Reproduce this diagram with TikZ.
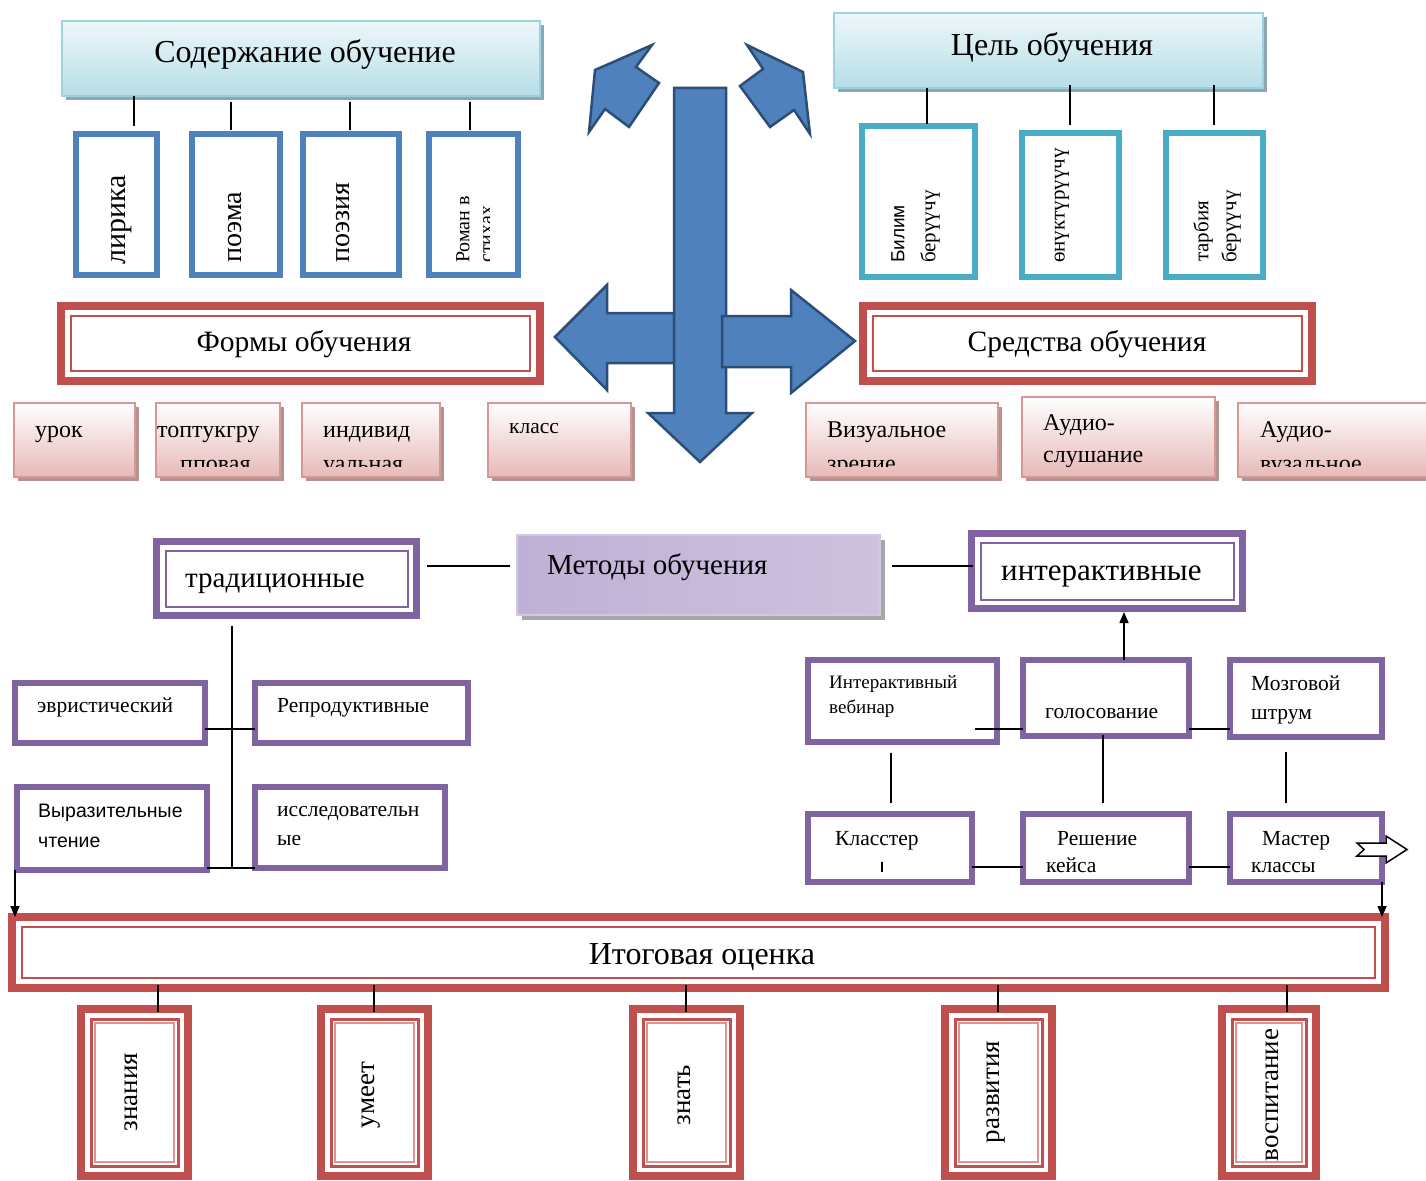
\documentclass[tikz,border=0pt]{standalone}
\usepackage{fontspec}
\setmainfont{Liberation Serif}
\newfontfamily\sansf{Liberation Sans}
\usetikzlibrary{arrows.meta}
\definecolor{bl}{HTML}{4F81BD}
\definecolor{bldark}{HTML}{2C4D75}
\definecolor{tl}{HTML}{4BACC6}
\definecolor{rd}{HTML}{C0504D}
\definecolor{pur}{HTML}{8064A2}
\definecolor{pinkb}{HTML}{D99694}
\definecolor{pinkf}{HTML}{E6B9B8}
\definecolor{pinksh}{HTML}{B39391}
\definecolor{cyb}{HTML}{9DD2E0}
\definecolor{cyf}{HTML}{B7DEE8}
\definecolor{cysh}{HTML}{8EA7B2}
\definecolor{lavA}{HTML}{BFB0D5}
\definecolor{lavB}{HTML}{E9E4F1}
\definecolor{lavC}{HTML}{CDC2DE}
\definecolor{graysh}{HTML}{A6A6A6}
\newcommand\BX[6]{\node[#1, minimum width={#4-#2}, minimum height={#5-#3}] (#6) at ({(#2+#4)/2},{(#3+#5)/2}) {};}
\newcommand\INR[4]{\draw[line width=#3, #4] ([shift={(#2,#2)}]#1.north west) rectangle ([shift={(-#2,-#2)}]#1.south east);}
\newcommand\SHD[6]{\fill[#1] ({#2+#6},{#3+#6}) rectangle ({#4+#6},{#5+#6});}
\begin{document}
\begin{tikzpicture}[x=1pt,y=-1pt,
  bx/.style={rectangle,inner sep=0pt,outer sep=0pt},
  hdr/.style={bx, draw=cyb, line width=2.5, top color=white!75!cyf, bottom color=cyf},
  blu/.style={bx, draw=bl, line width=6, fill=white},
  tlb/.style={bx, draw=tl, line width=6, fill=white},
  rdb/.style={bx, draw=rd, line width=8, fill=white},
  pnk/.style={bx, draw=pinkb, line width=2.5, top color=white, bottom color=pinkf},
  pub/.style={bx, draw=pur, line width=6, fill=white},
  pud/.style={bx, draw=pur, line width=7, fill=white},
  meth/.style={bx, draw=lavA!70!white, line width=1.5, left color=lavA, middle color=lavB, right color=lavC},
  ln/.style={line width=1.5, black},
  arr/.style={line width=1.5, black, -{Triangle[length=11pt,width=9pt]}},
  bigarrow/.style={fill=bl, draw=bldark, line width=2.5, line join=miter},
  fs/.style={font=\fontsize{#1}{#1}\selectfont},
  txt/.style={inner sep=0pt, anchor=base west},
  ctx/.style={inner sep=0pt, anchor=base},
  vt/.style={inner sep=0pt, rotate=90, anchor=west},
  vc/.style={inner sep=0pt, rotate=90, anchor=center}]
\useasboundingbox (0,0) rectangle (1426,1180);

% ---------- headers top ----------
\SHD{cysh}{62}{21}{540}{96}{4}
\BX{hdr}{62}{21}{540}{96}{content}
\node[ctx, fs=32] (tcontent) at (305,63) {Содержание обучение};
\SHD{cysh}{834}{13}{1263}{88}{4}
\BX{hdr}{834}{13}{1263}{88}{goal}
\node[ctx, fs=32] (tgoal) at (1052,56) {Цель обучения};

% ---------- content boxes ----------
\BX{blu}{76}{134}{157}{275}{lir}
\BX{blu}{192}{134}{280}{275}{poema}
\BX{blu}{303}{134}{399}{275}{poez}
\BX{blu}{429}{134}{518}{275}{roman}
\node[vt, fs=30] (tlir) at (122,265) {лирика};
\node[vt, fs=28] (tpoema) at (235,263) {поэма};
\node[vt, fs=28] (tpoez) at (343,263) {поэзия};
\node[vt, fs=20] (troman1) at (463,263) {Роман в};
\begin{scope}
\clip (430,134) rectangle (489,275);
\node[vt, fs=20] (troman2) at (488,263) {стихах};
\end{scope}
\draw[ln] (content.south -| 134,0) -- ([yshift=8]lir.north -| 134,0);
\draw[ln] ([yshift=-6]content.south -| 231,0) -- ([yshift=4]poema.north -| 231,0);
\draw[ln] ([yshift=-6]content.south -| 350,0) -- ([yshift=4]poez.north -| 350,0);
\draw[ln] ([yshift=-6]content.south -| 470,0) -- ([yshift=4]roman.north -| 470,0);

% ---------- goal boxes ----------
\BX{tlb}{862}{126}{975}{277}{bilim}
\BX{tlb}{1022}{133}{1119}{277}{onuk}
\BX{tlb}{1166}{133}{1263}{277}{tarb}
\node[vt, font=\sansf\fontsize{19}{19}\selectfont] (tbil1) at (898,263) {Билим};
\node[vt, fs=21] (tbil2) at (930,263) {берүүчү};
\node[vt, fs=21] (tonuk) at (1062,263) {өнүктүрүүчү};
\node[vt, fs=21] (ttarb1) at (1203,262) {тарбия};
\node[vt, fs=21] (ttarb2) at (1231,263) {берүүчү};
\draw[ln] (goal.south -| 927,0) -- ([yshift=2]bilim.north -| 927,0);
\draw[ln] ([yshift=3]goal.south -| 1070,0) -- ([yshift=8]onuk.north -| 1070,0);
\draw[ln] ([yshift=3]goal.south -| 1214,0) -- ([yshift=8]tarb.north -| 1214,0);

% ---------- forms / means ----------
\BX{rdb}{61}{306}{540}{381}{forms}
\INR{forms}{10}{2.5}{rd}
\node[ctx, fs=29.5] (tforms) at (304,351) {Формы обучения};
\BX{rdb}{863}{306}{1312}{381}{means}
\INR{means}{10}{2.5}{rd}
\node[ctx, fs=29.5] (tmeans) at (1087,351) {Средства обучения};

% ---------- central arrows ----------
\draw[bigarrow] (674,313) -- (607,313) -- (607,285) -- (555,337) -- (607,390) -- (607,363) -- (674,363) -- cycle;
\draw[bigarrow] (674,88) -- (726,88) -- (726,413) -- (752,413) -- (700,462) -- (648,413) -- (674,413) -- cycle;
\draw[bigarrow] (722,316) -- (791,316) -- (791,290) -- (855,341) -- (791,393) -- (791,367) -- (722,367) -- cycle;
\draw[bigarrow] (589,132) -- (595,70) -- (652,45) -- (636,67) -- (659,83) -- (629,127) -- (605,109) -- cycle;
\draw[bigarrow] (747,45) -- (803,72) -- (810,134) -- (794,110) -- (770,127) -- (740,86) -- (763,69) -- cycle;

% ---------- form sub boxes ----------
\SHD{pinksh}{14}{403}{135}{477}{4}
\BX{pnk}{14}{403}{135}{477}{urok}
\node[txt, fs=24] (turok) at (35,437) {урок};
\SHD{pinksh}{156}{403}{280}{477}{4}
\BX{pnk}{156}{403}{280}{477}{grp}
\node[txt, fs=24] (tgrp1) at (157,437) {топтукгру};
\SHD{pinksh}{302}{403}{440}{477}{4}
\BX{pnk}{302}{403}{440}{477}{ind}
\node[txt, fs=24] (tind1) at (323,437) {индивид};
\SHD{pinksh}{488}{403}{631}{477}{4}
\BX{pnk}{488}{403}{631}{477}{klass}
\node[txt, fs=21.5] (tklass) at (509,433) {класс};
\SHD{pinksh}{806}{403}{998}{477}{4}
\BX{pnk}{806}{403}{998}{477}{viz}
\node[txt, fs=24] (tviz1) at (827,437) {Визуальное};
\SHD{pinksh}{1022}{397}{1215}{477}{4}
\BX{pnk}{1022}{397}{1215}{477}{aud}
\node[txt, fs=24] (taud1) at (1043,430) {Аудио-};
\node[txt, fs=24] (taud2) at (1043,462) {слушание};
\SHD{pinksh}{1238}{403}{1440}{477}{4}
\BX{pnk}{1238}{403}{1440}{477}{audv}
\node[txt, fs=24] (taudv1) at (1260,437) {Аудио-};
\begin{scope}
\clip (150,400) rectangle (1430,466);
\node[txt, fs=24] (tgrp2) at (180,471) {пповая};
\node[txt, fs=24] (tind2) at (323,471) {уальная};
\node[txt, fs=24] (tviz2) at (827,471) {зрение};
\node[txt, fs=24] (taudv2) at (1260,471) {вузальное};
\end{scope}

% ---------- methods ----------
\BX{pud}{156.5}{541.5}{416.5}{615.5}{trad}
\INR{trad}{9}{2}{pur}
\node[txt, fs=29] (ttrad) at (185,587) {традиционные};
\SHD{graysh}{517}{535}{880}{615}{5}
\BX{meth}{517}{535}{880}{615}{meth}
\node[txt, fs=29] (tmeth) at (547,574) {Методы обучения};
\BX{pud}{971.5}{533.5}{1242.5}{608.5}{inter}
\INR{inter}{9}{2}{pur}
\node[txt, fs=31] (tinter) at (1001,580) {интерактивные};
\draw[ln] ([xshift=10]trad.east |- 0,566) -- ([xshift=-7]meth.west |- 0,566);
\draw[ln] ([xshift=12]meth.east |- 0,566) -- ([xshift=1]inter.west |- 0,566);

% traditional branch
\BX{pub}{15}{683}{205}{743}{evr}
\node[txt, fs=21.5] (tevr) at (37,712) {эвристический};
\BX{pub}{255}{683}{468}{743}{repr}
\node[txt, fs=21.5] (trepr) at (277,712) {Репродуктивные};
\BX{pub}{17}{787}{207}{870}{vyr}
\node[txt, font=\sansf\fontsize{19.5}{19.5}\selectfont] (tvyr1) at (38,817) {Выразительные};
\node[txt, font=\sansf\fontsize{19.5}{19.5}\selectfont] (tvyr2) at (38,847) {чтение};
\BX{pub}{255}{787}{445}{868}{issl}
\node[txt, fs=21.5] (tissl1) at (277,816) {исследовательн};
\node[txt, fs=21.5] (tissl2) at (277,845) {ые};
\draw[ln] ([yshift=-10]trad.south -| 232,0) -- (232,868);
\draw[ln] (evr.east |- 0,729) -- (repr.west |- 0,729);
\draw[ln] (vyr.east |- 0,868) -- (issl.west |- 0,868);

% interactive branch
\BX{pub}{808}{660}{997}{742}{webin}
\node[txt, fs=19] (twebin1) at (829,688) {Интерактивный};
\node[txt, fs=19] (twebin2) at (829,713) {вебинар};
\BX{pub}{1023}{660}{1189}{736}{golos}
\node[txt, fs=21.5] (tgolos) at (1045,718) {голосование};
\BX{pub}{1230}{660}{1382}{737}{mozg}
\node[txt, fs=21.5] (tmozg1) at (1251,690) {Мозговой};
\node[txt, fs=21.5] (tmozg2) at (1251,719) {штрум};
\BX{pub}{808}{814}{972}{882}{klast}
\node[txt, fs=21.5] (tklast) at (835,845) {Класстер};
\BX{pub}{1023}{814}{1189}{882}{resh}
\node[txt, fs=21.5] (tresh1) at (1057,845) {Решение};
\node[txt, fs=21.5] (tresh2) at (1046,872) {кейса};
\BX{pub}{1230}{814}{1382}{882}{master}
\node[txt, fs=21.5] (tmaster1) at (1262,845) {Мастер};
\node[txt, fs=21.5] (tmaster2) at (1251,872) {классы};
\draw[line width=1.5] ([yshift=10]klast.south -| 882,0) -- ([yshift=20]klast.south -| 882,0);
\draw[arr] (golos.north -| 1124,0) -- ([yshift=-3.5]inter.south -| 1124,0);
\draw[ln] ([xshift=-22]webin.east |- 0,729) -- (golos.west |- 0,729);
\draw[ln] (golos.east |- 0,729) -- (mozg.west |- 0,729);
\draw[ln] ([yshift=-11]webin.south -| 891,0) -- ([yshift=11]klast.north -| 891,0);
\draw[ln] ([yshift=1]golos.south -| 1103,0) -- ([yshift=11]resh.north -| 1103,0);
\draw[ln] ([yshift=-15]mozg.south -| 1286,0) -- ([yshift=11]master.north -| 1286,0);
\draw[ln] (klast.east |- 0,867) -- (resh.west |- 0,867);
\draw[ln] (resh.east |- 0,867) -- (master.west |- 0,867);
\draw[fill=white, line width=1.5, line join=miter] (1357,843) -- (1386,843) -- (1386,836) -- (1407,849.5) -- (1386,863) -- (1386,856) -- (1357,856) -- (1364,849.5) -- cycle;

% ---------- final assessment ----------
\BX{rdb}{12}{917}{1385}{988}{itog}
\INR{itog}{10}{2.5}{rd}
\node[ctx, fs=32] (titog) at (702,964) {Итоговая оценка};
\draw[arr] (vyr.south -| 15,0) -- (itog.north -| 15,0);
\draw[arr] (master.south -| 1382,0) -- (itog.north -| 1382,0);

\foreach \nm/\xa/\xb in {znan/81/188, umeet/321/428, znat/633/740, razv/945/1052, vosp/1222/1316}{
  \BX{rdb}{\xa+4}{1009}{\xb-4}{1176}{\nm}
  \INR{\nm}{10}{3}{rd}
  \INR{\nm}{14}{1.2}{pinkb}
}
\node[vc, fs=27] (tznan) at (131,1092) {знания};
\node[vc, fs=27] (tumeet) at (371,1095) {умеет};
\node[vc, fs=27] (tznat) at (684,1095) {знать};
\node[vc, fs=27] (trazv) at (996,1092) {развития};
\node[vc, fs=27] (tvosp) at (1272,1095) {воспитание};
\draw[ln] ([yshift=3]itog.south -| 158,0) -- ([yshift=-3]znan.north -| 158,0);
\draw[ln] ([yshift=3]itog.south -| 374,0) -- ([yshift=-3]umeet.north -| 374,0);
\draw[ln] ([yshift=3]itog.south -| 686,0) -- ([yshift=-3]znat.north -| 686,0);
\draw[ln] ([yshift=3]itog.south -| 998,0) -- ([yshift=-3]razv.north -| 998,0);
\draw[ln] ([yshift=3]itog.south -| 1287,0) -- ([yshift=-3]vosp.north -| 1287,0);
\end{tikzpicture}
\end{document}
